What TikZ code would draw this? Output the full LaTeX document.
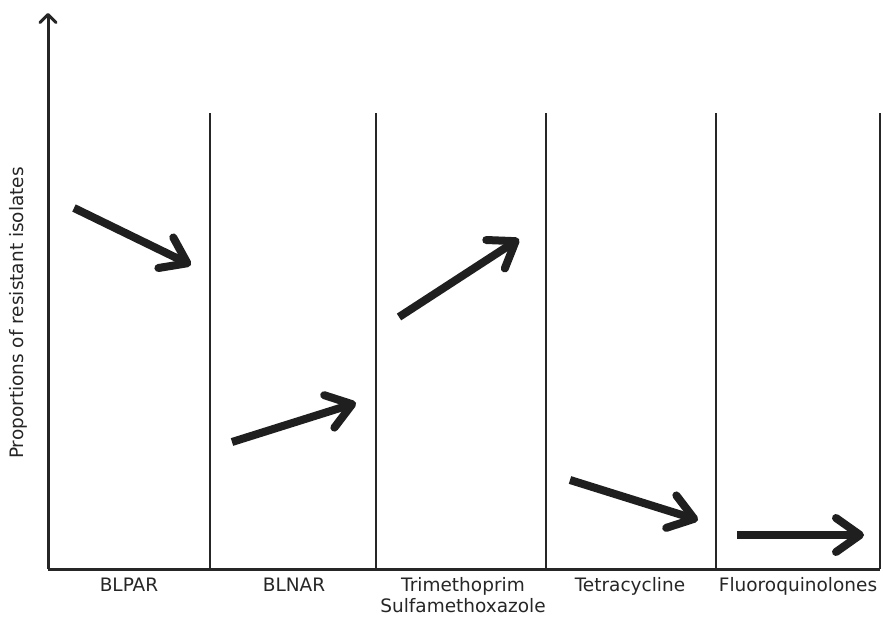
\documentclass[tikz,border=0pt]{standalone}
\usepackage{fontspec}
\setmainfont{DejaVu Sans}
\usetikzlibrary{arrows.meta}

\begin{document}
\begin{tikzpicture}[x=1pt,y=-1pt,
        axis/.style={line width=3pt,color=black!85},
        divider/.style={line width=2pt,color=black!85},
        trend/.style={line width=8pt,color=black!88,
            -{Straight Barb[round,length=24pt,width=34pt]}},
        drug/.style={font=\fontsize{18.5}{21}\selectfont,color=black!85,align=center,anchor=north}]
    \useasboundingbox (0,0) rectangle (883,617);
    % axes
    \coordinate (o) at (48,569);
    \coordinate (top) at (48,13);
    \coordinate (end) at (880,569);
    \draw[axis,-{Straight Barb[round,length=8pt,width=16pt]}] (o) -- (top);
    \draw[axis] (o) -- (end);
    % dividers between the groups
    \foreach \x in {210,376,546,716,880}
        \draw[divider] (\x,569) -- (\x,113);
    % trends
    \coordinate (a1) at (74,208);  \coordinate (b1) at (191,265);
    \coordinate (a2) at (232,442); \coordinate (b2) at (356,403);
    \coordinate (a3) at (399,317); \coordinate (b3) at (519,239);
    \coordinate (a4) at (570,480); \coordinate (b4) at (698,520);
    \coordinate (a5) at (737,535); \coordinate (b5) at (864,535);
    \draw[trend] (a1) -- (b1);
    \draw[trend] (a2) -- (b2);
    \draw[trend] (a3) -- (b3);
    \draw[trend] (a4) -- (b4);
    \draw[trend] (a5) -- (b5);
    % labels
    \node[drug] (blpar) at (129,574) {BLPAR};
    \node[drug] (blnar) at (294,574) {BLNAR};
    \node[drug] (tmp) at (463,574) {Trimethoprim\\Sulfamethoxazole};
    \node[drug] (tet) at (630,574) {Tetracycline};
    \node[drug] (fq) at (798,574) {Fluoroquinolones};
    \node[drug,anchor=center,rotate=90] (ylab) at (18,313) {Proportions of resistant isolates};
\end{tikzpicture}
\end{document}
